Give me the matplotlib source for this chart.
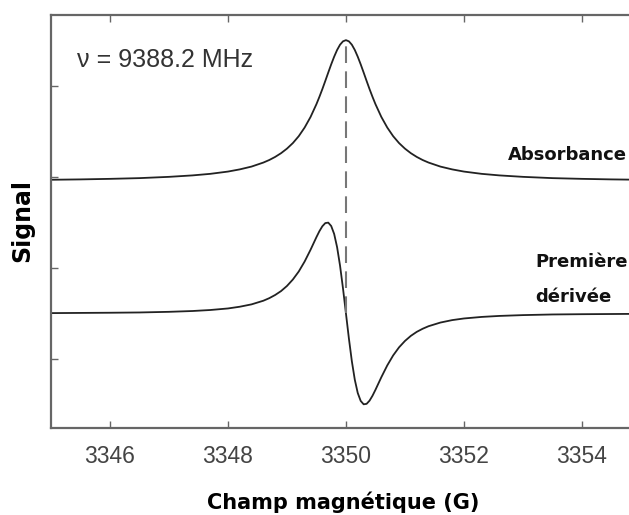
import matplotlib
matplotlib.use("Agg")
import matplotlib.pyplot as plt

# field values (G), denser near the resonance
field = [3345.0, 3345.5, 3346.0, 3346.5, 3347.0, 3347.4, 3347.7, 3348.0, 3348.2,
         3348.4, 3348.6, 3348.7, 3348.8, 3348.9, 3349.0, 3349.1, 3349.2, 3349.3,
         3349.4, 3349.5, 3349.55, 3349.6, 3349.65, 3349.7, 3349.75, 3349.8,
         3349.85, 3349.9, 3349.95, 3350.0, 3350.05, 3350.1, 3350.15, 3350.2,
         3350.25, 3350.3, 3350.35, 3350.4, 3350.45, 3350.5, 3350.6, 3350.7,
         3350.8, 3350.9, 3351.0, 3351.1, 3351.2, 3351.3, 3351.4, 3351.6,
         3351.8, 3352.0, 3352.3, 3352.6, 3353.0, 3353.5, 3354.0, 3354.5, 3355.0]

absorbance = [1.969, 1.973, 1.979, 1.987, 2.001, 2.017, 2.034, 2.059, 2.083,
              2.114, 2.158, 2.186, 2.220, 2.261, 2.311, 2.372, 2.448, 2.543,
              2.659, 2.800, 2.880, 2.965, 3.055, 3.147, 3.237, 3.321,
              3.395, 3.453, 3.490, 3.503, 3.490, 3.453, 3.395, 3.321,
              3.237, 3.147, 3.055, 2.965, 2.880, 2.800, 2.659, 2.543,
              2.448, 2.372, 2.311, 2.261, 2.220, 2.186, 2.158, 2.114,
              2.083, 2.059, 2.034, 2.017, 2.001, 1.987, 1.979, 1.973, 1.969]

derivee = [0.504, 0.506, 0.508, 0.511, 0.518, 0.527, 0.538, 0.555, 0.574,
           0.600, 0.640, 0.668, 0.703, 0.746, 0.802, 0.873, 0.961, 1.071,
           1.200, 1.339, 1.404, 1.458, 1.493, 1.498, 1.461, 1.374,
           1.228, 1.025, 0.775, 0.500, 0.225, -0.025, -0.228, -0.374,
           -0.461, -0.498, -0.493, -0.458, -0.404, -0.339, -0.200, -0.071,
           0.039, 0.128, 0.198, 0.254, 0.298, 0.332, 0.360, 0.400,
           0.427, 0.445, 0.462, 0.473, 0.482, 0.489, 0.492, 0.494, 0.496]

x_ticks = [3346, 3348, 3350, 3352, 3354]
y_ticks = [0, 1, 2, 3]

fig = plt.figure(figsize=(6.29, 5.15), dpi=100)
ax = fig.add_axes([0.081, 0.169, 0.938, 0.802])

ax.plot(field, absorbance, color="#222222", lw=1.3)
ax.plot(field, derivee, color="#222222", lw=1.3)
ax.vlines(3350, 0.5, 3.5, colors="#777777", linestyles=(0, (8, 4)), lw=1.5)

ax.set_xlim(3345, 3355)
ax.set_ylim(-0.758, 3.78)
ax.set_xticks(x_ticks)
ax.set_xticklabels([str(t) for t in x_ticks], fontsize=16.5, color="#444444",
                   family="Liberation Sans")
ax.set_yticks(y_ticks)
ax.set_yticklabels([])
ax.tick_params(direction="in", length=5, width=1, color="#666666",
               top=True, right=False, pad=12)
for side in ["left", "bottom", "top"]:
    ax.spines[side].set_color("#666666")
    ax.spines[side].set_linewidth(1.6)

ax.text(3345.44, 3.29, "ν = 9388.2 MHz", fontsize=18, color="#333333",
        family="Liberation Sans", va="center")

lab = dict(fontsize=13, fontweight="bold", family="DejaVu Sans", color="#111111")
fig.text(0.997, 0.699, "Absorbance", ha="right", va="center", **lab)
fig.text(0.851, 0.491, "Première", ha="left", va="center", **lab)
fig.text(0.851, 0.423, "dérivée", ha="left", va="center", **lab)

fig.text(0.035, 0.571, "Signal", rotation=90, ha="center", va="center",
         fontsize=17, fontweight="bold", family="DejaVu Sans")
fig.text(0.546, 0.025, "Champ magnétique (G)", ha="center", va="center",
         fontsize=15, fontweight="bold", family="DejaVu Sans")

fig.savefig("out.png", dpi=100)
